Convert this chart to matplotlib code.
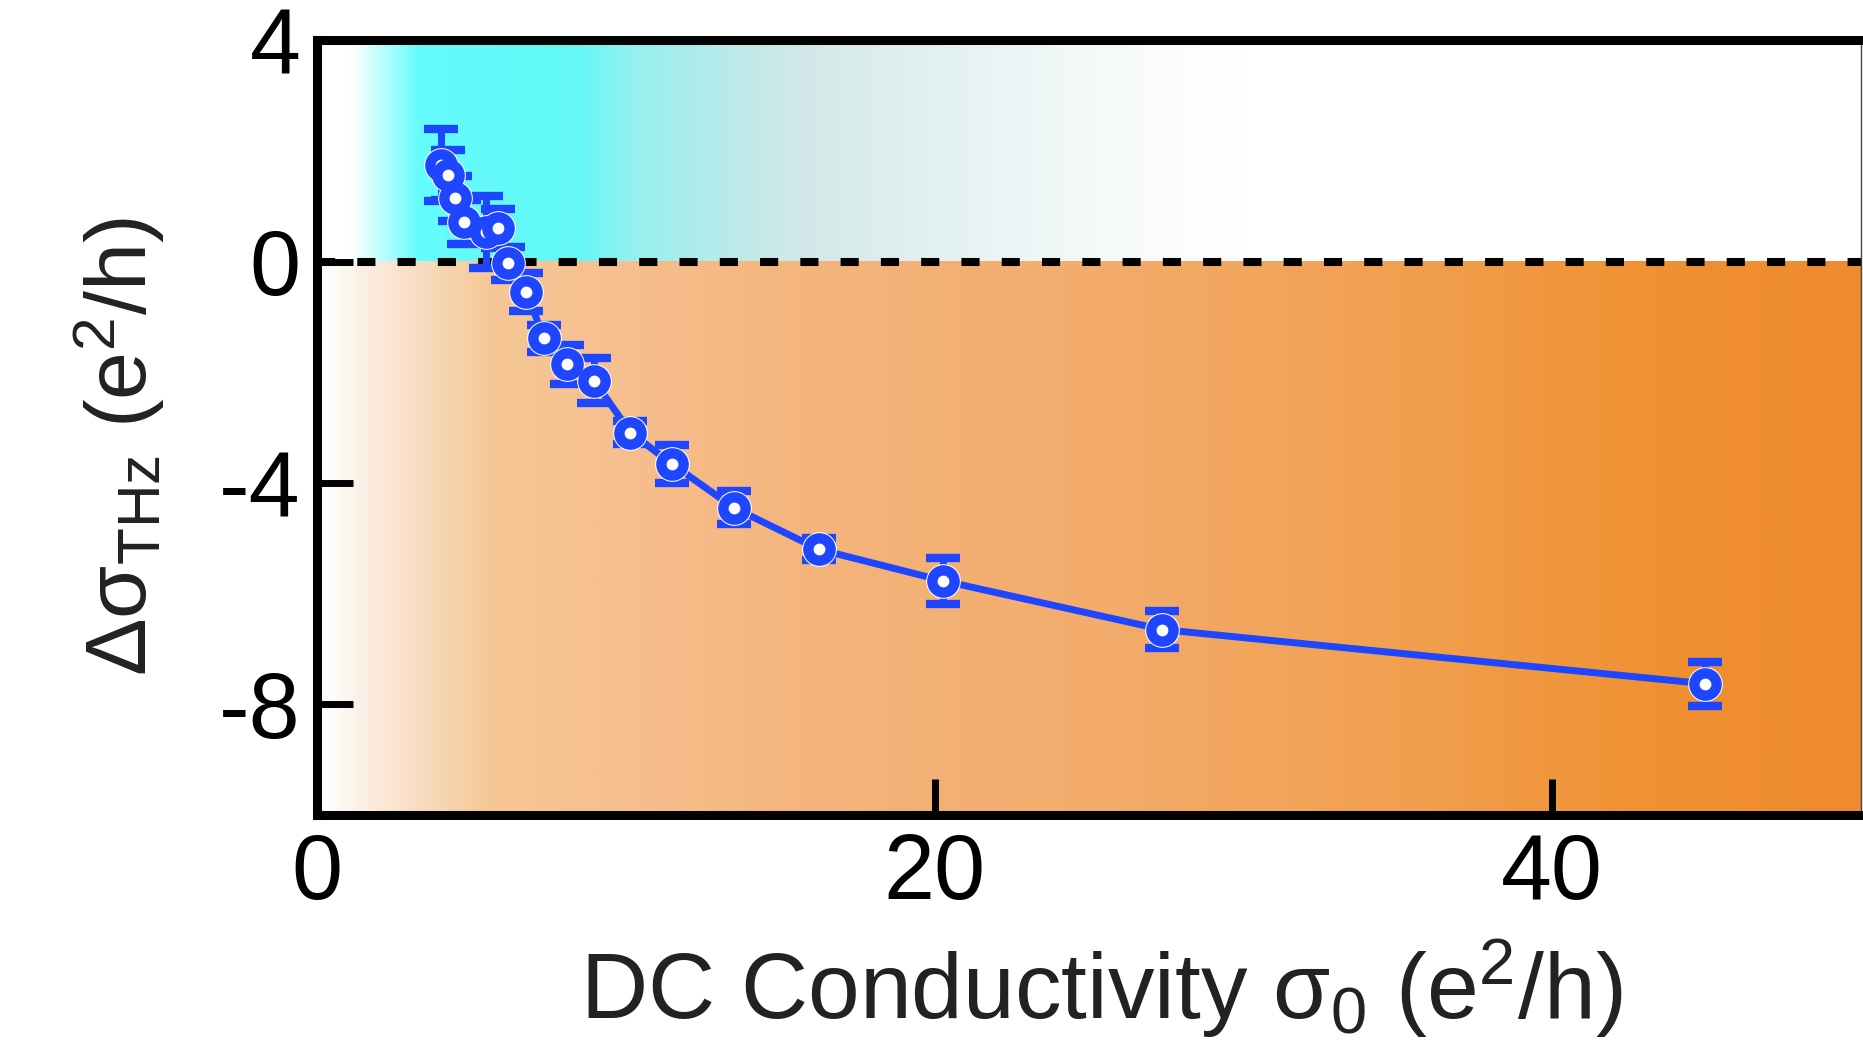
import numpy as np
import matplotlib
matplotlib.use("Agg")
import matplotlib.pyplot as plt
from matplotlib.colors import to_rgb

# ---- data ----
sigma_dc = [4.02, 4.23, 4.48, 4.75, 5.47, 5.85, 6.17, 6.78, 7.35, 8.11, 8.97,
            10.15, 11.5, 13.5, 16.25, 20.28, 27.37, 44.96]
delta_sigma = [1.74, 1.56, 1.14, 0.71, 0.54, 0.60, -0.03, -0.55, -1.39, -1.86,
               -2.15, -3.09, -3.66, -4.45, -5.2, -5.77, -6.65, -7.63]
delta_err = [0.65, 0.45, 0.4, 0.4, 0.65, 0.35, 0.3, 0.35, 0.25, 0.35, 0.4,
             0.2, 0.35, 0.3, 0.2, 0.42, 0.33, 0.4]
xticks = [0, 20, 40]
yticks = [-8, -4, 0, 4]

# background gradient stops (x position, colour)
upper_stops = [(0, "#ffffff"), (1.1, "#ffffff"), (3.3, "#64fcfc"), (8.3, "#62f8f6"),
               (10.4, "#98f0f0"), (14.5, "#c8e8e8"), (16.1, "#d5e9ea"),
               (20.7, "#e5f2f2"), (26.8, "#fafcfc"), (30.0, "#ffffff"), (50, "#ffffff")]
lower_stops = [(0, "#ffffff"), (0.4, "#fefcfa"), (1.7, "#fbece0"), (3.3, "#f8dcc0"),
               (5.5, "#f6c896"), (9.2, "#f6c090"), (16.2, "#f4b47c"),
               (25.3, "#f3ac6c"), (35.0, "#f1a050"), (43.9, "#f09030"),
               (50, "#ee8a30")]

plt.rcParams['font.family'] = ['Liberation Sans', 'DejaVu Sans']
plt.rcParams['mathtext.fontset'] = 'custom'
plt.rcParams['mathtext.rm'] = 'Liberation Sans'
plt.rcParams['mathtext.it'] = 'Liberation Sans:italic'
plt.rcParams['mathtext.bf'] = 'Liberation Sans:bold'
plt.rcParams['axes.unicode_minus'] = False

fig = plt.figure(figsize=(18.63, 10.57), dpi=100)
ax = fig.add_axes([0.1702, 0.229, 0.8287, 0.733])

XMIN, XMAX, YMIN, YMAX = 0, 50, -10, 4


def gradient(stops, n=1000):
    xs = np.linspace(XMIN, XMAX, n)
    px = [s[0] for s in stops]
    cols = np.array([to_rgb(s[1]) for s in stops])
    img = np.stack([np.interp(xs, px, cols[:, k]) for k in range(3)], axis=-1)
    return img[np.newaxis, :, :]


ax.imshow(gradient(upper_stops), extent=[XMIN, XMAX, 0, YMAX], aspect='auto',
          interpolation='bilinear', zorder=0)
ax.imshow(gradient(lower_stops), extent=[XMIN, XMAX, YMIN, 0], aspect='auto',
          interpolation='bilinear', zorder=0)

ax.axhline(0, color='black', lw=5.8, linestyle=(0, (2.25, 2.75)),
           dash_capstyle='butt', zorder=1)

blue = '#1e46ff'
ax.errorbar(sigma_dc, delta_sigma, yerr=delta_err, fmt='none', ecolor=blue,
            elinewidth=5, capsize=12, capthick=6, zorder=2)
ax.plot(sigma_dc, delta_sigma, '-', color=blue, lw=5, zorder=3)
ax.plot(sigma_dc, delta_sigma, 'o', ls='none', ms=25, mfc='white', mec='white',
        mew=0, zorder=4)
ax.plot(sigma_dc, delta_sigma, 'o', ls='none', ms=16, mfc='white', mec=blue,
        mew=7.5, zorder=5)

ax.set_xlim(XMIN, XMAX)
ax.set_ylim(YMIN, YMAX)
ax.set_xticks(xticks)
ax.set_yticks(yticks)

ax.tick_params(direction='in', length=26, width=5, labelsize=66, pad=12,
               top=False, right=False)
for side in ['left', 'bottom', 'top']:
    ax.spines[side].set_linewidth(6.5)
ax.spines['right'].set_linewidth(1.0)
ax.spines['right'].set_color('#444444')

ax.set_xlabel('DC Conductivity σ$_{\\mathrm{0}}$ (e$^{\\mathrm{2}}$/h)', fontsize=67,
              color='#222222')
ax.xaxis.set_label_coords(0.508, -0.158)
ax.set_ylabel('Δσ$_{\\mathrm{THz}}$ (e$^{\\mathrm{2}}$/h)', fontsize=62,
              color='#222222')
ax.yaxis.set_label_coords(-0.097, 0.475)

fig.savefig('out.png', dpi=100)
